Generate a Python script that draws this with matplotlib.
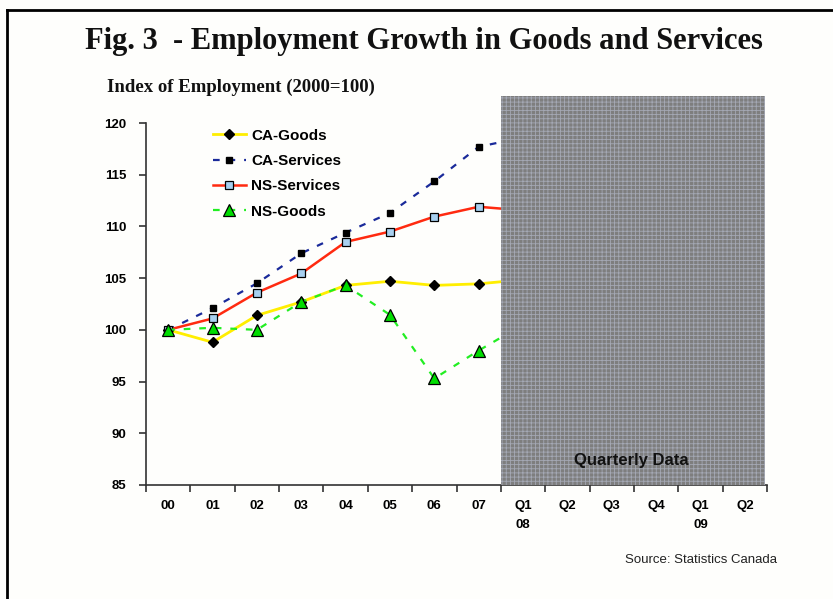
import matplotlib
matplotlib.use("Agg")
import matplotlib.pyplot as plt
from matplotlib.lines import Line2D
from matplotlib.patches import Rectangle

# period labels: annual 2000-2007, then quarters
periods = ["00", "01", "02", "03", "04", "05", "06", "07",
           "Q1\n08", "Q2", "Q3", "Q4", "Q1\n09", "Q2"]

# index of employment (2000=100); last value is Q1 2008, hidden under the shading
ca_goods = [100.0, 98.8, 101.4, 102.7, 104.3, 104.7, 104.3, 104.45, 104.85]
ca_services = [100.0, 102.1, 104.5, 107.4, 109.4, 111.3, 114.35, 117.7, 118.6]
ns_services = [100.0, 101.1, 103.6, 105.45, 108.5, 109.5, 110.95, 111.9, 111.55]
ns_goods = [100.0, 100.2, 100.0, 102.7, 104.3, 101.45, 95.3, 98.0, 100.5]

plt.rcParams["font.family"] = ["Liberation Sans", "DejaVu Sans"]
plt.rcParams["hatch.linewidth"] = 0.6

fig = plt.figure(figsize=(8.33, 5.99), dpi=100, facecolor="#fefefc")

# page frame (top and left edges)
fig.add_artist(Line2D([7 / 833, 7 / 833], [0, 1 - 10 / 599],
                      transform=fig.transFigure, color="black", lw=2))
fig.add_artist(Line2D([7 / 833, 1], [1 - 10 / 599, 1 - 10 / 599],
                      transform=fig.transFigure, color="black", lw=2))

ax = fig.add_axes([146 / 833, 1 - 485 / 599, 621 / 833, 362 / 599])
ax.set_facecolor("#fefefc")

x = [i + 0.5 for i in range(len(ca_goods))]

ax.plot(x, ca_goods, color="#ffee00", lw=2, marker="D", ms=5,
        mfc="black", mec="black", label="CA-Goods", zorder=3)
ax.plot(x, ca_services, color="#1a2a9a", lw=1.6, ls=(0, (3, 4)), marker="s",
        ms=5, mfc="black", mec="black", label="CA-Services", zorder=3)
ax.plot(x, ns_services, color="#ff2a10", lw=1.8, marker="s", ms=5.5,
        mfc="#a8d0f0", mec="black", mew=0.9, label="NS-Services", zorder=3)
ax.plot(x, ns_goods, color="#22ee22", lw=1.6, ls=(0, (3, 4)), marker="^",
        ms=8, mfc="#00dd00", mec="black", mew=0.9, label="NS-Goods", zorder=3)

# shaded block over the quarterly periods
shade = Rectangle((8, 85), 5.95, 37.6, facecolor="#7e7e7e",
                  edgecolor="#a4a8b4", hatch="++++", lw=0, clip_on=False,
                  zorder=5)
ax.add_patch(shade)
ax.text(10.95, 87.4, "Quarterly Data", ha="center", va="center",
        fontsize=12, fontweight="bold", color="#111111", zorder=6)

ax.set_xlim(0, 14)
ax.set_ylim(85, 120)
ax.set_yticks(range(85, 121, 5))
ax.set_xticks(range(0, 15))
ax.set_xticklabels([])
ax.set_xticks([i + 0.5 for i in range(len(periods))], minor=True)
ax.set_xticklabels(periods, minor=True, fontsize=9.5, fontweight="bold",
                   va="top", linespacing=1.8)
ax.tick_params(axis="x", which="major", direction="out", length=5,
               width=1.2, color="#333333")
ax.tick_params(axis="x", which="minor", length=0, pad=11)
ax.tick_params(axis="y", direction="out", length=5, width=1.2,
               color="#333333", pad=9)
for lbl in ax.get_yticklabels():
    lbl.set_fontsize(9.5)
    lbl.set_fontweight("bold")

for side in ("top", "right"):
    ax.spines[side].set_visible(False)
for side in ("left", "bottom"):
    ax.spines[side].set_linewidth(1.2)
    ax.spines[side].set_color("#333333")

ax.legend(loc="upper left", bbox_to_anchor=(0.085, 1.022), frameon=False,
          prop={"size": 11, "weight": "bold"}, handlelength=2.2,
          handletextpad=0.35, labelspacing=0.74)

fig.text(0.509, 1 - 42 / 599, "Fig. 3  - Employment Growth in Goods and Services",
         ha="center", va="center", fontsize=22, fontweight="bold",
         family=["Liberation Serif", "DejaVu Serif"], color="#111111")
fig.text(107 / 833, 1 - 87 / 599, "Index of Employment (2000=100)",
         ha="left", va="center", fontsize=13.5, fontweight="bold",
         family=["Liberation Serif", "DejaVu Serif"], color="#111111")
fig.text(777 / 833, 1 - 560 / 599, "Source: Statistics Canada",
         ha="right", va="center", fontsize=9.5, color="#222222")

fig.savefig("out.png", dpi=100, facecolor=fig.get_facecolor())
